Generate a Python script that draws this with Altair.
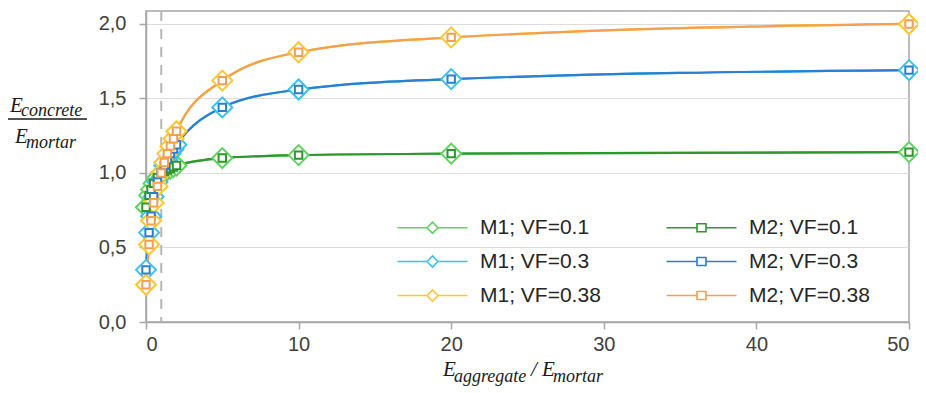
import altair as alt
import pandas as pd

# ---- data ----
x_ratio = [0, 0.2, 0.33, 0.5, 0.75, 1, 1.2, 1.4, 1.6, 1.8, 2, 5, 10, 20, 50]
m1_vf01 = [0.77, 0.85, 0.89, 0.93, 0.97, 1.00, 1.01, 1.02, 1.03, 1.04, 1.05, 1.10, 1.12, 1.13, 1.14]
m2_vf01 = [0.77, 0.85, 0.89, 0.93, 0.97, 1.00, 1.01, 1.02, 1.03, 1.04, 1.05, 1.10, 1.12, 1.13, 1.14]
m1_vf03 = [0.35, 0.60, 0.71, 0.84, 0.94, 1.00, 1.05, 1.09, 1.13, 1.16, 1.19, 1.44, 1.56, 1.63, 1.69]
m2_vf03 = [0.35, 0.60, 0.71, 0.84, 0.94, 1.00, 1.05, 1.09, 1.13, 1.16, 1.19, 1.44, 1.56, 1.63, 1.69]
m1_vf038 = [0.25, 0.52, 0.68, 0.80, 0.91, 1.00, 1.07, 1.13, 1.18, 1.23, 1.28, 1.62, 1.81, 1.91, 2.00]
m2_vf038 = [0.25, 0.52, 0.68, 0.80, 0.91, 1.00, 1.07, 1.13, 1.18, 1.23, 1.28, 1.62, 1.81, 1.91, 2.00]

series_names = ["M1; VF=0.1", "M2; VF=0.1", "M1; VF=0.3", "M2; VF=0.3", "M1; VF=0.38", "M2; VF=0.38"]
series_colors = ["#5fd35f", "#2e962e", "#3dbff2", "#2a7fd0", "#ffc72c", "#f5a050"]
y_ticks = [0, 0.5, 1.0, 1.5, 2.0]
x_ticks = [0, 10, 20, 30, 40, 50]
ref_line = [1]

series_values = [m1_vf01, m2_vf01, m1_vf03, m2_vf03, m1_vf038, m2_vf038]
rows = []
for name, vals in zip(series_names, series_values):
    for xv, yv in zip(x_ratio, vals):
        rows.append({"series": name, "model": name[:2], "x": xv, "y": yv})
df = pd.DataFrame(rows)

# ---- styling ----
AX = "#a6a6a6"
color_scale = alt.Scale(domain=series_names, range=series_colors)

x_enc = alt.X("x:Q", scale=alt.Scale(domain=[0, 50], nice=False),
              axis=alt.Axis(values=x_ticks, title=None, grid=False, format="d",
                            labelPadding=5))
y_enc = alt.Y("y:Q", scale=alt.Scale(domain=[0, 2.087], nice=False, zero=True),
              axis=alt.Axis(values=y_ticks, title=None, grid=True, labelPadding=13,
                            labelExpr="replace(format(datum.value, '.1f'), '.', ',')"))

base = alt.Chart(df).encode(x=x_enc, y=y_enc)
stroke_enc = alt.Stroke("series:N", scale=color_scale, legend=None)

ref = alt.Chart(pd.DataFrame({"x": ref_line})).mark_rule(
    strokeDash=[10, 8], color="#b5b5b5", strokeWidth=2).encode(x="x:Q")

lines_m1 = base.transform_filter("datum.model == 'M1'").mark_line(
    interpolate="monotone", strokeWidth=2.2).encode(stroke=stroke_enc)
lines_m2 = base.transform_filter("datum.model == 'M2'").mark_line(
    interpolate="monotone", strokeWidth=2.2).encode(stroke=stroke_enc)

diamonds = base.transform_filter("datum.model == 'M1'").mark_point(
    shape="diamond", size=400, filled=True, fill="white", strokeWidth=2, opacity=1).encode(
    stroke=stroke_enc)
squares = base.transform_filter("datum.model == 'M2'").mark_point(
    shape="square", size=55, filled=True, fill="white", strokeWidth=2, opacity=1).encode(
    stroke=stroke_enc)

# legend symbols: line with a small marker in the middle
p_diamond = "M-7,0L-1.1,0M1.1,0L7,0M-1.1,0L0,-1.1L1.1,0L0,1.1Z"
p_square = "M-7,0L-0.9,0M0.9,0L7,0M-0.9,-0.8L0.9,-0.8L0.9,0.8L-0.9,0.8Z"
shape_range = [p_diamond, p_square] * 3

leg = alt.Legend(title=None, orient="none", legendX=276, legendY=206, columns=2,
                 direction="horizontal",
                 columnPadding=62, rowPadding=12, symbolSize=100, symbolOpacity=1,
                 symbolStrokeWidth=1.6, labelFont="Liberation Sans", labelFontSize=21,
                 labelColor="#262626", labelOffset=37, padding=0)

# legend-only layer: points placed below the y domain and clipped away
legend_layer = alt.Chart(df).transform_calculate(hidden="-10").mark_point(
    filled=False, size=100, strokeWidth=1.6, opacity=1, clip=True).encode(
    x=x_enc, y=alt.Y("hidden:Q"),
    color=alt.Color("series:N", scale=color_scale, legend=leg),
    shape=alt.Shape("series:N", scale=alt.Scale(domain=series_names, range=shape_range), legend=leg))


def txt(s, x, y, size):
    return alt.Chart(pd.DataFrame({"t": [s]})).mark_text(
        text=s, font="Liberation Serif", fontStyle="italic", fontSize=size,
        align="left", baseline="alphabetic", color="#1a1a1a").encode(
        x=alt.value(x), y=alt.value(y))


frac = alt.Chart(pd.DataFrame({"t": [0]})).mark_rule(color="#1a1a1a", strokeWidth=1.3).encode(
    x=alt.value(-138), x2=alt.value(-59), y=alt.value(108))

titles = [
    txt("E", -136, 101, 21), txt("concrete", -125, 105, 18), frac,
    txt("E", -131, 132, 21), txt("mortar", -120, 137, 18),
    txt("E", 297, 365, 21), txt("aggregate", 308, 371, 18),
    txt("/", 385, 365, 21), txt("E", 396, 365, 21), txt("mortar", 407, 371, 18),
]

chart = alt.layer(legend_layer, ref, lines_m1, lines_m2, diamonds, squares, *titles).properties(
    width=763, height=311,
    autosize=alt.AutoSizeParams(type="none"),
    padding={"left": 138, "top": 3, "right": 9, "bottom": 68},
).configure_view(stroke=AX, strokeWidth=1.5).configure_axis(
    domainColor=AX, domainWidth=1.5, tickColor=AX, tickWidth=1.5, tickSize=7,
    gridColor="#dcdcdc", gridWidth=1,
    labelFont="Liberation Sans", labelFontSize=20, labelColor="#404040",
)

chart.save("out.html", embed_options={"renderer": "svg", "actions": False})
